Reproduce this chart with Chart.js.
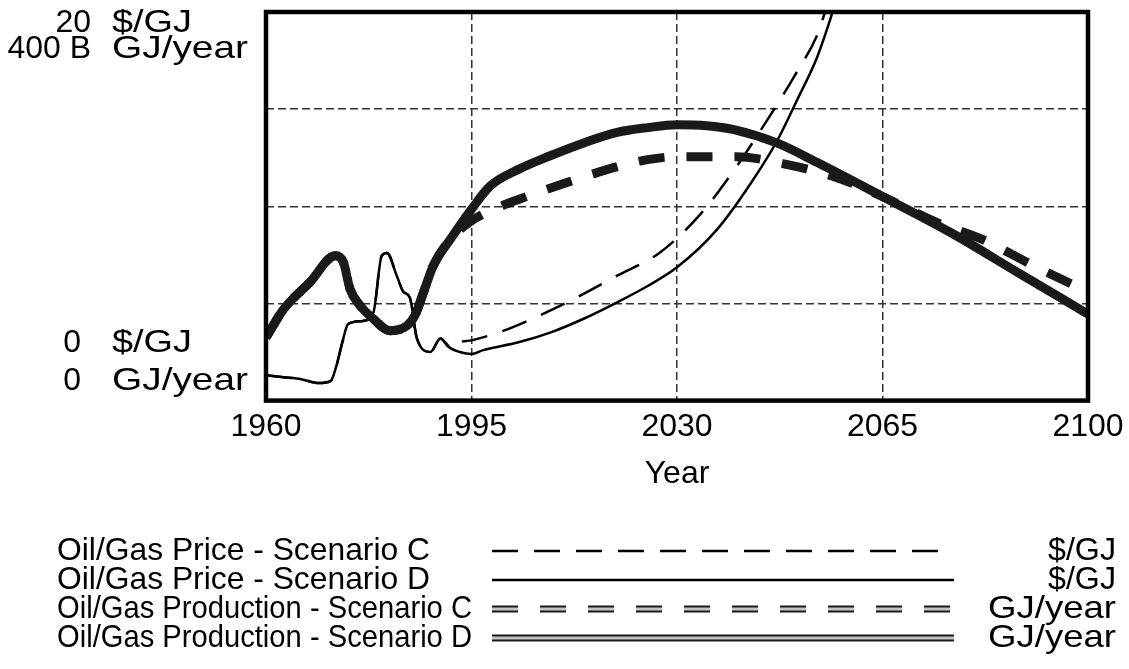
<!DOCTYPE html>
<html>
<head>
<meta charset="utf-8">
<script src="https://cdn.jsdelivr.net/npm/chart.js@4"></script>
<style>
  html, body { margin: 0; padding: 0; background: #fff; }
  #chart { display: block; }
</style>
</head>
<body>
<canvas id="chart" width="1129" height="669"></canvas>
<script>
// values
var xTicks = [1960, 1995, 2030, 2065, 2100];

var priceCYears = [1960, 1963, 1966, 1969, 1971, 1972, 1973, 1974, 1976.5, 1978.3, 1979.7, 1980.6, 1982.3, 1983.4, 1984.5, 1985.7, 1988, 1989.7, 1991.4, 1993, 1995, 2000.5, 2004.5, 2011.3, 2019.8, 2027, 2034, 2039.8, 2045.5, 2050, 2054, 2055, 2057];
var priceC = [1.3, 1.2, 1.1, 0.9, 1.0, 1.8, 3.0, 3.95, 4.1, 4.55, 7.45, 7.6, 6.4, 5.6, 5.3, 3.2, 2.5, 3.2, 2.7, 3.0, 3.1, 3.6, 4.1, 5.06, 6.43, 7.6, 9.6, 11.9, 14.5, 16.7, 18.9, 19.8, 21.5];

var priceDYears = [1960, 1963, 1966, 1969, 1971, 1972, 1973, 1974, 1976.5, 1978.3, 1979.7, 1980.6, 1982.3, 1983.4, 1984.5, 1985.7, 1988, 1989.7, 1991.4, 1993, 1995, 1997, 2003, 2008.4, 2014, 2019.8, 2025, 2030, 2036.8, 2042.6, 2047.1, 2050.5, 2053.9, 2056.4, 2058];
var priceD = [1.3, 1.2, 1.1, 0.9, 1.0, 1.8, 3.0, 3.95, 4.1, 4.55, 7.45, 7.6, 6.4, 5.6, 5.3, 3.2, 2.5, 3.2, 2.7, 2.5, 2.4, 2.6, 3.0, 3.5, 4.2, 5.06, 5.9, 6.86, 8.8, 11.2, 13.4, 15.5, 17.7, 19.9, 21.5];

var prodCYears = [1960, 1963, 1967.5, 1971.8, 1973.2, 1974.3, 1976, 1978.3, 1981.1, 1984, 1985.4, 1986.8, 1988.5, 1991.4, 1995, 2000, 2003, 2012, 2020, 2025, 2030, 2040, 2048, 2057, 2065, 2074, 2082, 2091, 2100];
var prodC = [65, 94, 122, 149, 142, 115, 98, 84, 72, 77, 88, 111, 139, 166, 185, 200, 207, 226, 241, 248, 251, 251, 244, 230, 210, 184, 166, 138, 112];

var prodDYears = [1960, 1963, 1967.5, 1971.8, 1973.2, 1974.3, 1976, 1978.3, 1981.1, 1984, 1985.4, 1986.8, 1988.5, 1991.4, 1995, 1998.2, 2003, 2008.4, 2014, 2019.8, 2025, 2030, 2035, 2039.7, 2047.1, 2053.9, 2064.7, 2076.6, 2088, 2100];
var prodD = [65, 94, 122, 149, 142, 115, 98, 84, 72, 77, 88, 111, 139, 166, 197, 221, 238, 252, 265, 276, 281, 284, 283, 279, 265, 245, 211, 173, 132, 89];

function pts(xs, ys) {
  return xs.map(function (x, i) { return { x: x, y: ys[i] }; });
}

var FONT = '"Liberation Sans", Arial, Helvetica, sans-serif';
var PRICE_DASH = [26, 16];
var PROD_DASH = [26, 22];
var THICK_OUT = 9, THICK_IN = 5;
var EDGE = '#1a1a1a', FILL = '#c4c4c4';

var legendRows = [
  { label: 'Oil/Gas Price - Scenario C', unit: '$/GJ', kind: 'priceC', w: 373, uw: 68 },
  { label: 'Oil/Gas Price - Scenario D', unit: '$/GJ', kind: 'priceD', w: 373, uw: 68 },
  { label: 'Oil/Gas Production - Scenario C', unit: 'GJ/year', kind: 'prodC', w: 415, uw: 128 },
  { label: 'Oil/Gas Production - Scenario D', unit: 'GJ/year', kind: 'prodD', w: 415, uw: 128 }
];

// draw text stretched/squeezed to a given width
function fitText(c, text, x, y, width, align) {
  var w = c.measureText(text).width;
  c.save();
  c.translate(align === 'right' ? x - width : x, y);
  c.scale(width / w, 1);
  c.textAlign = 'left';
  c.fillText(text, 0, 0);
  c.restore();
}

function strokeSample(c, kind, x1, x2, y) {
  c.save();
  c.lineCap = 'butt';
  if (kind === 'priceC' || kind === 'priceD') {
    c.strokeStyle = '#000';
    c.lineWidth = 2.5;
    c.setLineDash(kind === 'priceC' ? PRICE_DASH : []);
    c.beginPath(); c.moveTo(x1, y); c.lineTo(x2, y); c.stroke();
  } else {
    c.setLineDash(kind === 'prodC' ? PROD_DASH : []);
    c.strokeStyle = EDGE; c.lineWidth = 7;
    c.beginPath(); c.moveTo(x1, y); c.lineTo(x2, y); c.stroke();
    c.strokeStyle = FILL; c.lineWidth = 3;
    c.beginPath(); c.moveTo(x1, y); c.lineTo(x2, y); c.stroke();
  }
  c.restore();
}

var framePlugin = {
  id: 'frame',
  afterDatasetsDraw: function (chart) {
    var a = chart.chartArea, c = chart.ctx;
    c.save();
    c.strokeStyle = '#000';
    c.lineWidth = 4.5;
    c.strokeRect(a.left, a.top, a.right - a.left, a.bottom - a.top);
    c.restore();
  },
  afterDraw: function (chart) {
    var a = chart.chartArea, c = chart.ctx;
    c.save();
    c.font = '32px ' + FONT;
    c.fillStyle = '#000';
    c.textBaseline = 'middle';
    // axis range labels on the left
    c.textAlign = 'right';
    c.fillText('20', 91, a.top + 11);
    c.fillText('400 B', 91, a.top + 37);
    c.fillText('0', 81, a.bottom - 57);
    c.fillText('0', 81, a.bottom - 19);
    fitText(c, '$/GJ', 112, a.top + 11, 80, 'left');
    fitText(c, 'GJ/year', 112, a.top + 37, 136, 'left');
    fitText(c, '$/GJ', 112, a.bottom - 57, 80, 'left');
    fitText(c, 'GJ/year', 112, a.bottom - 19, 136, 'left');
    // legend
    legendRows.forEach(function (r, i) {
      var y = 551 + i * 29;
      fitText(c, r.label, 57, y, r.w, 'left');
      fitText(c, r.unit, 1116, y, r.uw, 'right');
      strokeSample(c, r.kind, 492, 954, y);
    });
    c.restore();
  }
};

var ctx = document.getElementById('chart');
var chart = new Chart(ctx, {
  type: 'line',
  data: {
    datasets: [
      {
        label: 'Oil/Gas Production - Scenario D',
        data: pts(prodDYears, prodD), yAxisID: 'yq',
        borderColor: EDGE, borderWidth: THICK_OUT
      },
      {
        label: 'Oil/Gas Production - Scenario D (inner)',
        data: pts(prodDYears, prodD), yAxisID: 'yq',
        borderColor: FILL, borderWidth: THICK_IN
      },
      {
        label: 'Oil/Gas Production - Scenario C',
        data: pts(prodCYears, prodC), yAxisID: 'yq',
        borderColor: EDGE, borderWidth: THICK_OUT, borderDash: PROD_DASH
      },
      {
        label: 'Oil/Gas Production - Scenario C (inner)',
        data: pts(prodCYears, prodC), yAxisID: 'yq',
        borderColor: FILL, borderWidth: THICK_IN, borderDash: PROD_DASH
      },
      {
        label: 'Oil/Gas Price - Scenario C',
        data: pts(priceCYears, priceC), yAxisID: 'yp',
        borderColor: '#000', borderWidth: 2.5, borderDash: PRICE_DASH
      },
      {
        label: 'Oil/Gas Price - Scenario D',
        data: pts(priceDYears, priceD), yAxisID: 'yp',
        borderColor: '#000', borderWidth: 2.5
      }
    ]
  },
  options: {
    responsive: false,
    animation: false,
    layout: { padding: { left: 266, right: 41, top: 12, bottom: 176 } },
    elements: {
      point: { radius: 0 },
      line: { cubicInterpolationMode: 'monotone', fill: false, borderCapStyle: 'butt' }
    },
    plugins: {
      legend: { display: false },
      tooltip: { enabled: false }
    },
    scales: {
      x: {
        type: 'linear', min: 1960, max: 2100,
        afterBuildTicks: function (axis) {
          axis.ticks = xTicks.map(function (v) { return { value: v }; });
        },
        afterFit: function (axis) {
          axis.paddingLeft = 0;
          axis.paddingRight = 0;
        },
        ticks: {
          color: '#000', font: { family: FONT, size: 32, lineHeight: 1.0 }, padding: 11,
          maxRotation: 0,
          callback: function (v) { return String(v); }
        },
        grid: { color: '#333', lineWidth: 1.5, drawTicks: false },
        border: { display: false, dash: [8, 4] },
        title: {
          display: true, text: 'Year', color: '#000',
          font: { family: FONT, size: 32 }, padding: { top: 0, bottom: 0 }
        }
      },
      yp: {
        position: 'left', min: 0, max: 20,
        ticks: { display: false, stepSize: 5 },
        grid: { color: '#333', lineWidth: 1.5, drawTicks: false },
        border: { display: false, dash: [8, 4] }
      },
      yq: {
        position: 'left', min: 0, max: 400, display: false
      }
    }
  },
  plugins: [framePlugin]
});
</script>
</body>
</html>
